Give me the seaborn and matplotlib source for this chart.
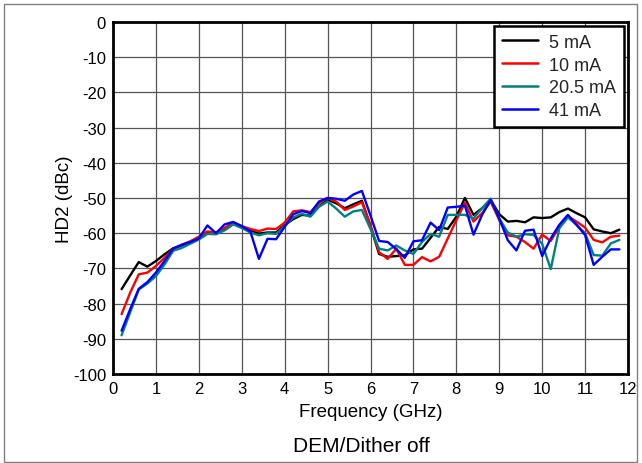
import numpy as np
import pandas as pd
import matplotlib
matplotlib.use("Agg")
import matplotlib.pyplot as plt
import seaborn as sns
from matplotlib.patches import Rectangle

freq_ghz = [0.2, 0.4, 0.6, 0.8, 1.0, 1.2, 1.4, 1.6, 1.8, 2.0,
            2.2, 2.4, 2.6, 2.8, 3.0, 3.2, 3.4, 3.6, 3.8, 4.0,
            4.2, 4.4, 4.6, 4.8, 5.0, 5.2, 5.4, 5.6, 5.8, 6.0,
            6.2, 6.4, 6.6, 6.8, 7.0, 7.2, 7.4, 7.6, 7.8, 8.0,
            8.2, 8.4, 8.6, 8.8, 9.0, 9.2, 9.4, 9.6, 9.8, 10.0,
            10.2, 10.4, 10.6, 10.8, 11.0, 11.2, 11.4, 11.6, 11.8]

hd2_5ma = [-75.9, -72.0, -68.2, -69.5, -67.9, -66.0, -64.3, -63.5, -62.5, -61.3,
           -60.0, -60.0, -59.0, -57.2, -58.4, -59.3, -60.1, -59.8, -59.8, -57.7,
           -56.0, -54.8, -55.0, -52.4, -50.5, -51.5, -52.9, -51.8, -50.8, -58.0,
           -65.9, -66.7, -66.5, -66.3, -64.6, -64.4, -61.3, -58.2, -58.8, -55.3,
           -50.0, -54.8, -52.9, -50.5, -54.6, -56.7, -56.5, -56.9, -55.5, -55.7,
           -55.5, -54.0, -53.0, -54.3, -55.5, -58.9, -59.5, -60.0, -59.0]

hd2_10ma = [-83.0, -76.9, -71.7, -71.2, -69.3, -67.0, -64.4, -63.3, -62.3, -61.0,
            -59.5, -59.8, -58.5, -57.0, -58.0, -58.8, -59.4, -58.7, -58.8, -57.0,
            -53.8, -53.5, -54.0, -51.5, -50.0, -51.0, -53.4, -52.4, -51.2, -57.7,
            -65.4, -67.3, -64.4, -69.0, -69.0, -66.8, -68.0, -66.7, -61.5, -56.3,
            -51.4, -56.7, -54.3, -51.0, -56.3, -60.6, -61.0, -62.5, -64.4, -60.4,
            -62.2, -58.1, -55.2, -56.7, -58.4, -61.9, -62.6, -61.0, -60.7]

hd2_20_5ma = [-89.0, -82.5, -76.0, -74.3, -72.2, -68.9, -65.0, -64.2, -63.0, -61.8,
              -60.2, -60.3, -59.2, -57.5, -58.5, -59.8, -60.6, -60.0, -60.2, -58.0,
              -55.5, -54.5, -55.3, -52.5, -51.0, -53.0, -55.3, -53.8, -53.4, -58.8,
              -64.4, -64.9, -63.5, -64.9, -65.9, -62.5, -60.2, -61.0, -54.8, -54.8,
              -54.8, -55.8, -52.9, -50.2, -55.8, -59.8, -61.0, -60.3, -60.5, -63.0,
              -70.2, -58.6, -55.5, -57.6, -60.0, -66.2, -66.4, -62.9, -61.9]

hd2_41ma = [-87.7, -81.6, -75.8, -73.9, -71.2, -67.9, -64.4, -63.3, -62.5, -61.5,
            -57.8, -60.0, -57.5, -56.8, -58.0, -59.5, -67.3, -61.6, -61.7, -58.2,
            -54.6, -53.7, -54.3, -51.0, -50.0, -50.2, -50.8, -49.0, -48.0, -55.0,
            -62.2, -62.5, -64.5, -67.0, -62.3, -62.0, -57.0, -59.1, -52.7, -52.5,
            -52.2, -60.4, -54.8, -50.5, -55.8, -62.0, -64.9, -59.3, -59.0, -66.5,
            -61.5, -57.6, -54.8, -57.6, -60.5, -69.0, -66.7, -64.6, -64.6]

series_labels = ["5 mA", "10 mA", "20.5 mA", "41 mA"]
series_colors = ["#000000", "#ff0000", "#008080", "#0000ff"]
x_ticks = list(range(0, 13))
y_ticks = list(range(-100, 1, 10))

frames = []
for lab, vals in zip(series_labels, [hd2_5ma, hd2_10ma, hd2_20_5ma, hd2_41ma]):
    frames.append(pd.DataFrame({"Frequency": freq_ghz, "HD2": vals, "Current": lab}))
df = pd.concat(frames, ignore_index=True)

sns.set_theme(style="white")
plt.rcParams["font.family"] = ["Liberation Sans", "DejaVu Sans"]

fig = plt.figure(figsize=(6.42, 4.64), dpi=100)
ax = fig.add_axes([113/642, 1 - 375/464, (628 - 113)/642, (375 - 23)/464])

sns.lineplot(data=df, x="Frequency", y="HD2", hue="Current",
             hue_order=series_labels, palette=series_colors,
             linewidth=1.7, ax=ax, sort=False, estimator=None)

ax.set_xlim(0, 12)
ax.set_ylim(-100, 0)
ax.set_xticks(x_ticks)
ax.set_yticks(y_ticks)
ax.set_xticklabels([str(t) for t in x_ticks], fontsize=12)
ax.set_yticklabels([str(t) for t in y_ticks], fontsize=12)
ax.tick_params(axis="both", length=0, pad=5, colors="black")
ax.grid(True, color="#555555", linewidth=0.9)
ax.set_axisbelow(True)
for sp in ax.spines.values():
    sp.set_color("black")
    sp.set_linewidth(2)
    sp.set_visible(True)

ax.set_xlabel("Frequency (GHz)", fontsize=13.5, labelpad=5, color="black")
ax.set_ylabel("HD2 (dBc)", fontsize=13.5, labelpad=0, color="black")

leg = ax.legend(loc="upper right", fontsize=13, frameon=True, fancybox=False,
                framealpha=1, edgecolor="black", handlelength=2.0,
                borderaxespad=0.2, labelspacing=0.32, handletextpad=0.6,
                borderpad=0.45)
leg.get_frame().set_linewidth(1.8)
for h in leg.get_lines():
    h.set_linewidth(1.8)

fig.text(361 / 642, 1 - 447 / 464, "DEM/Dither off",
         ha="center", va="center", fontsize=15, color="black")

fig.patches.append(Rectangle((4/642, 1/464), (637 - 4)/642, (459 - 1)/464,
                             transform=fig.transFigure, fill=False,
                             edgecolor="#808080", linewidth=1))

fig.savefig("out.png", dpi=100)
